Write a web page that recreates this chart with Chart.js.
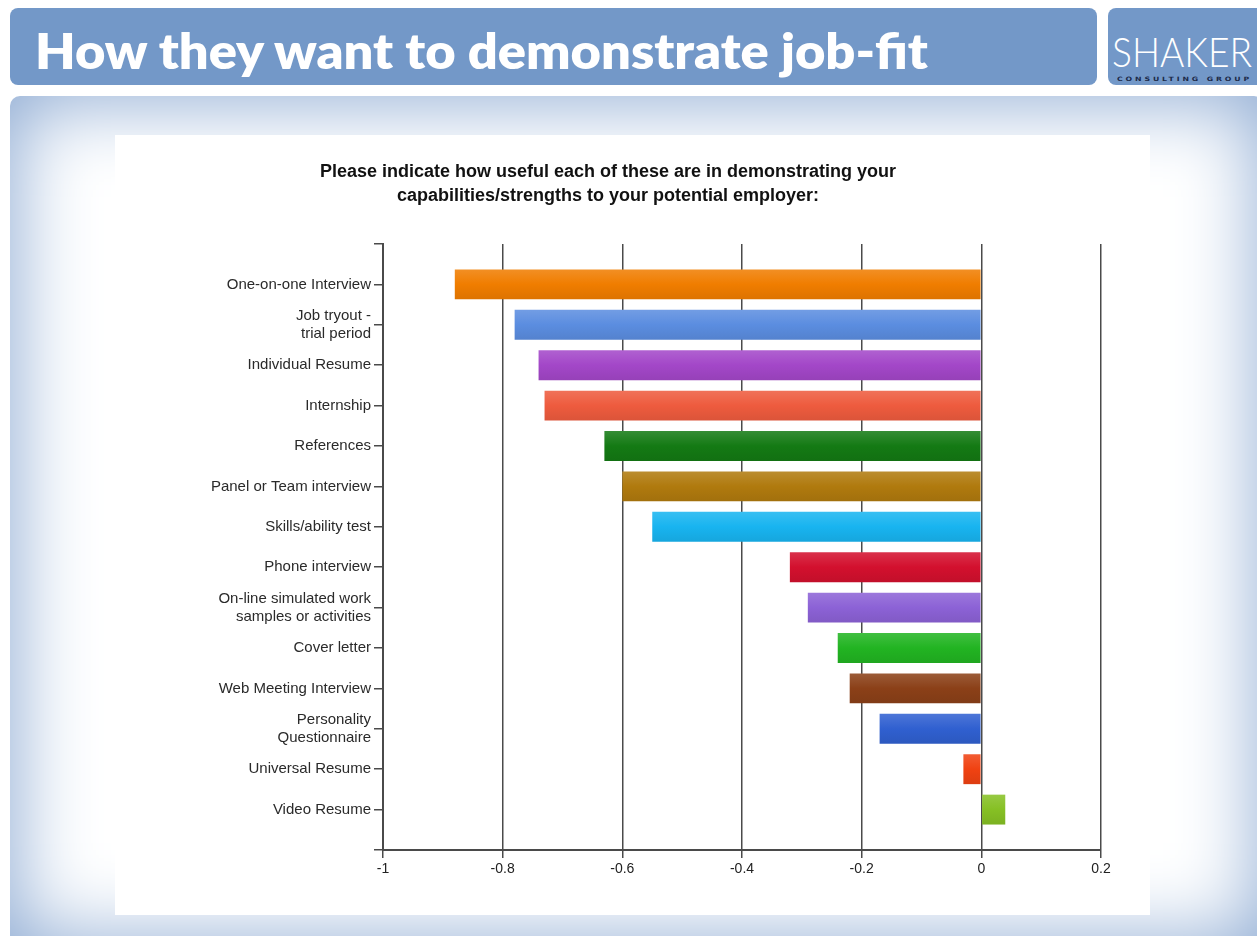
<!DOCTYPE html>
<html>
<head>
<meta charset="utf-8">
<script src="https://cdn.jsdelivr.net/npm/chart.js@4/dist/chart.umd.min.js"></script>
<style>
  html, body { margin: 0; padding: 0; background: #ffffff; width: 1257px; height: 936px; overflow: hidden; }
  .bar-box { position: absolute; background: #7398c8; border-radius: 8px; }
  #banner { left: 10px; top: 8px; width: 1087px; height: 77px; }
  #logo { left: 1108px; top: 8px; width: 160px; height: 77px; }
  #heading { position: absolute; left: 35px; top: 25px; color: #ffffff; font: 800 50px Lato, "Open Sans", sans-serif;
             line-height: 50px; white-space: nowrap; transform-origin: left top; }
  #shaker { position: absolute; left: 1112px; top: 30px; color: #ffffff; font: 300 42px Lato, "Open Sans", sans-serif;
            line-height: 42px; white-space: nowrap; transform-origin: left top; }
  #consult { position: absolute; left: 1117px; top: 75px; color: #1c2a48; font: bold 6px "DejaVu Sans", sans-serif;
             letter-spacing: 2.2px; white-space: nowrap; line-height: 7px; transform-origin: left top; }
  #panel { position: absolute; left: 10px; top: 96px; width: 1254px; height: 848px; background: #ffffff;
           border-radius: 10px 10px 0 0; box-shadow: inset 0 0 80px 6px #8eabd3; }
  #card { position: absolute; left: 115px; top: 135px; width: 1035px; height: 780px; background: #ffffff; }
  canvas { display: block; }
</style>
</head>
<body>
<div id="banner" class="bar-box"></div>
<div id="heading">How they want to demonstrate job-fit</div>
<div id="logo" class="bar-box"></div>
<div id="shaker">SHAKER</div>
<div id="consult">CONSULTING GROUP</div>
<div id="panel"></div>
<div id="card"><canvas id="chart" width="1035" height="780"></canvas></div>

<script>
// Survey items, top to bottom
const categories = [
  "One-on-one Interview",
  ["Job tryout -", "trial period"],
  "Individual Resume",
  "Internship",
  "References",
  "Panel or Team interview",
  "Skills/ability test",
  "Phone interview",
  ["On-line simulated work", "samples or activities"],
  "Cover letter",
  "Web Meeting Interview",
  ["Personality", "Questionnaire"],
  "Universal Resume",
  "Video Resume"
];

// Net usefulness score per item
const usefulness = [-0.88, -0.78, -0.74, -0.73, -0.63, -0.60, -0.55, -0.32, -0.29, -0.24, -0.22, -0.17, -0.03, 0.04];

// One colour per bar
const barColors = [
  "#f07d00", "#5b8de0", "#a347c8", "#ee5b3e", "#147a14", "#b07a0e", "#18b4f0",
  "#d3102e", "#8c62d6", "#22b422", "#8b4018", "#3060d0", "#f04212", "#86c024"
];

// Value-axis tick positions
const xTicks = [-1, -0.8, -0.6, -0.4, -0.2, 0, 0.2];

const chartTitle = [
  "Please indicate how useful each of these are in demonstrating your",
  "capabilities/strengths to your potential employer:"
];

// A blank slot above and below the list gives one full row of space at each end of the axis
const labels = [""].concat(categories, [""]);
const values = [null].concat(usefulness, [null]);
const colors = [null].concat(barColors, [null]);

function shade(hex, amt) {
  const n = parseInt(hex.slice(1), 16);
  let r = (n >> 16) & 255, g = (n >> 8) & 255, b = n & 255;
  const f = c => Math.max(0, Math.min(255, Math.round(amt >= 0 ? c + (255 - c) * amt : c * (1 + amt))));
  return "rgb(" + f(r) + "," + f(g) + "," + f(b) + ")";
}

const BAR_PCT = 0.74;

function barFill(ctx) {
  const base = colors[ctx.dataIndex] || "#888888";
  const chart = ctx.chart;
  const ys = chart.scales && chart.scales.y;
  if (!ys || ys.top === undefined) return base;
  const cy = ys.getPixelForValue(ctx.dataIndex);
  const half = BAR_PCT * Math.abs(ys.getPixelForValue(1) - ys.getPixelForValue(0)) / 2;
  const g = chart.ctx.createLinearGradient(0, cy - half, 0, cy + half);
  g.addColorStop(0, shade(base, 0.14));
  g.addColorStop(0.5, base);
  g.addColorStop(1, shade(base, -0.08));
  return g;
}

const axisColor = "#4a4a4a";
const fontFamily = "'Liberation Sans', Arial, sans-serif";

new Chart(document.getElementById("chart"), {
  type: "bar",
  data: {
    labels: labels,
    datasets: [{
      data: values,
      backgroundColor: barFill,
      borderWidth: 0,
      categoryPercentage: 1,
      barPercentage: BAR_PCT
    }]
  },
  options: {
    indexAxis: "y",
    responsive: false,
    animation: false,
    events: [],
    layout: { padding: { left: 0, right: 49, top: 0, bottom: 35 } },
    plugins: {
      legend: { display: false },
      tooltip: { enabled: false },
      title: {
        display: true,
        text: chartTitle,
        color: "#111111",
        font: { family: fontFamily, size: 18, weight: "bold", lineHeight: 1.333 },
        padding: { top: 25, bottom: 36 }
      }
    },
    scales: {
      x: {
        type: "linear",
        min: -1,
        max: 0.2,
        afterBuildTicks: s => { s.ticks = xTicks.map(v => ({ value: v })); },
        afterFit: s => { s.height = 30; },
        grid: { color: axisColor, lineWidth: 1.5, tickLength: 8, drawTicks: true },
        border: { display: true, color: axisColor, width: 2 },
        ticks: {
          color: "#222222",
          padding: 3,
          font: { family: fontFamily, size: 14 },
          callback: v => String(Math.round(v * 10) / 10)
        }
      },
      y: {
        type: "category",
        offset: false,
        afterFit: s => { s.width = 268; },
        grid: { offset: false, drawOnChartArea: false, drawTicks: true, tickLength: 9, color: axisColor, lineWidth: 1.5 },
        border: { display: true, color: axisColor, width: 2 },
        ticks: {
          autoSkip: false,
          color: "#2a2a2a",
          padding: 3,
          font: { family: fontFamily, size: 15, lineHeight: 1.2 }
        }
      }
    }
  }
});

// Stretch the heading and logo word to their box widths
function fitWidth(id, target) {
  const el = document.getElementById(id);
  const w = el.getBoundingClientRect().width;
  if (w > 0) el.style.transform = "scaleX(" + (target / w) + ")";
}
fitWidth("heading", 893);
fitWidth("shaker", 140);
fitWidth("consult", 135);
</script>
</body>
</html>
